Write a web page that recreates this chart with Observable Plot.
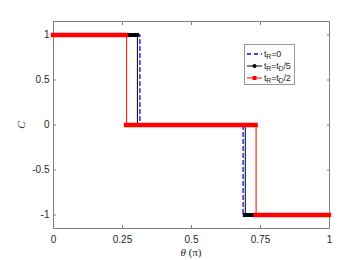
<!DOCTYPE html>
<html><head><meta charset="utf-8">
<script src="https://cdn.jsdelivr.net/npm/d3@7"></script>
<script src="https://cdn.jsdelivr.net/npm/@observablehq/plot@0.6"></script>
<style>
body{margin:0;background:#fff;}
#wrap{position:relative;width:340px;height:260px;font-family:"Liberation Sans",Arial,sans-serif;}
#legend{position:absolute;left:244px;top:44px;width:51px;height:41px;border:1px solid #999;background:#fff;box-sizing:border-box;font-size:9px;color:#262626;}
.row{position:absolute;left:0;height:12px;display:flex;align-items:center;}
.row svg{display:block}
.row span{margin-left:1px;white-space:nowrap;letter-spacing:-0.2px}
sub{font-size:7px;vertical-align:-2px;line-height:0}
</style></head>
<body><div id="wrap"></div>
<script>
const seriesNames = ["t_R=0", "t_R=t_D/5", "t_R=t_D/2"];
const seriesColors = ["#0000ff", "#000000", "#ff0000"];
const firstDrop = [0.313, 0.304, 0.265];
const secondDrop = [0.687, 0.695, 0.734];
const levels = [1, 0, -1];
const xTicks = [0, 0.25, 0.5, 0.75, 1];
const yTicks = [-1, -0.5, 0, 0.5, 1];

function stepPath(i){
  const a = firstDrop[i], b = secondDrop[i];
  return [
    {x:0,y:levels[0],s:i},{x:a,y:levels[0],s:i},{x:a,y:levels[1],s:i},
    {x:b,y:levels[1],s:i},{x:b,y:levels[2],s:i},{x:1,y:levels[2],s:i}
  ];
}
function flats(i){
  const a = firstDrop[i], b = secondDrop[i];
  return [{x1:0,x2:a,y:levels[0]},{x1:a,x2:b,y:levels[1]},{x1:b,x2:1,y:levels[2]}];
}
const gray = "#808080";
const chart = Plot.plot({
  width:340, height:260,
  marginLeft:53, marginRight:11, marginTop:21, marginBottom:32,
  style:{fontFamily:"Liberation Sans, Arial, sans-serif", fontSize:"10px", color:"#262626", background:"transparent"},
  x:{domain:[0,1]},
  y:{domain:[-1.15,1.15]},
  marks:[
    Plot.frame({stroke:gray, strokeWidth:1}),
    Plot.axisX(xTicks,{anchor:"bottom", tickSize:0, tickPadding:7, tickFormat:d=>String(d), label:null, fill:"#262626"}),
    Plot.axisX(xTicks,{anchor:"bottom", tickSize:-3, text:null, label:null, stroke:gray}),
    Plot.axisX(xTicks,{anchor:"top", tickSize:-3, text:null, label:null, stroke:gray}),
    Plot.axisY(yTicks,{anchor:"left", tickSize:0, tickPadding:4, tickFormat:d=>String(d), label:null, fill:"#262626"}),
    Plot.axisY(yTicks,{anchor:"left", tickSize:-3, text:null, label:null, stroke:gray}),
    Plot.axisY(yTicks,{anchor:"right", tickSize:-3, text:null, label:null, stroke:gray}),
    // blue dashed
    Plot.line(stepPath(0),{x:"x",y:"y",stroke:seriesColors[0],strokeWidth:1.3,strokeDasharray:"4,3"}),
    // black
    Plot.line(stepPath(1),{x:"x",y:"y",stroke:seriesColors[1],strokeWidth:1}),
    Plot.ruleY(flats(1),{y:"y",x1:"x1",x2:"x2",stroke:seriesColors[1],strokeWidth:4,strokeLinecap:"square"}),
    // red
    Plot.line(stepPath(2),{x:"x",y:"y",stroke:seriesColors[2],strokeWidth:1}),
    Plot.ruleY(flats(2),{y:"y",x1:"x1",x2:"x2",stroke:seriesColors[2],strokeWidth:4.5,strokeLinecap:"square"})
  ]
});
const wrap = document.getElementById("wrap");
wrap.appendChild(chart);
// axis labels
const svg = d3.select(chart);
svg.append("text").attr("x",191).attr("y",256).attr("text-anchor","middle")
  .attr("font-family","Liberation Serif, serif").attr("font-size",11).attr("fill","#262626")
  .html('<tspan font-style="italic">θ</tspan> (π)');
svg.append("text").attr("transform","translate(25,125) rotate(-90)").attr("text-anchor","middle")
  .attr("font-family","Liberation Serif, serif").attr("font-style","italic").attr("font-size",11).attr("fill","#262626")
  .text("C");
// legend
const leg = document.createElement("div"); leg.id="legend"; wrap.appendChild(leg);
const rowsTop = [3, 15, 27];
const labelsHTML = ["t<sub>R</sub>=0","t<sub>R</sub>=t<sub>D</sub>/5","t<sub>R</sub>=t<sub>D</sub>/2"];
seriesNames.forEach((n,i)=>{
  const r = document.createElement("div"); r.className="row"; r.style.top=rowsTop[i]+"px";
  let sample = `<svg width="18" height="12"><line x1="2" x2="17" y1="6" y2="6" stroke="${seriesColors[i]}" stroke-width="${i==0?1.3:1}" ${i==0?'stroke-dasharray="4,3"':''}/>`;
  if(i==1) sample += `<circle cx="9.5" cy="6" r="2" fill="#000"/>`;
  if(i==2) sample += `<rect x="7.5" y="4" width="4" height="4" fill="#ff0000"/>`;
  sample += `</svg>`;
  r.innerHTML = sample + `<span>${labelsHTML[i]}</span>`;
  leg.appendChild(r);
});
</script></body></html>
